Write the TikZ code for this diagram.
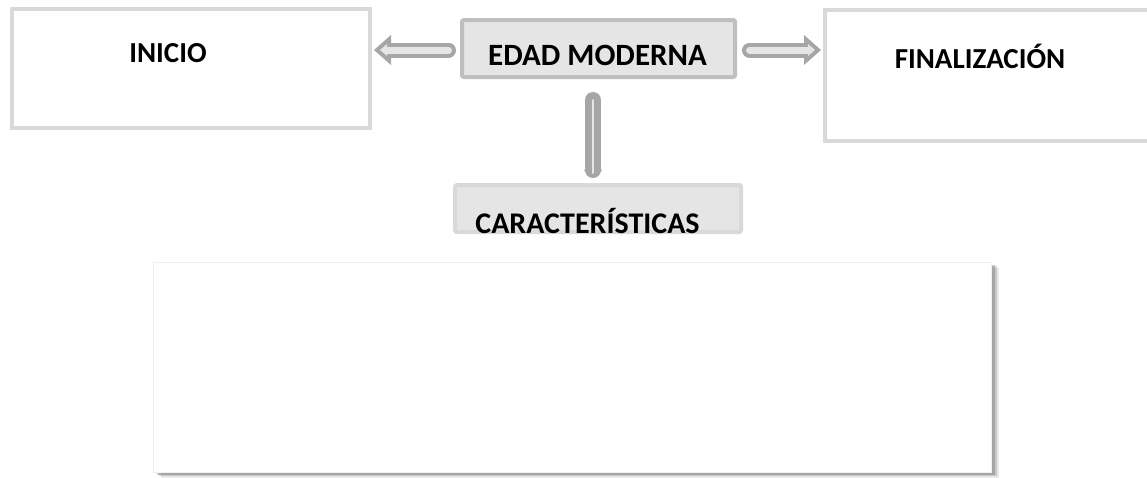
\documentclass[tikz,border=0pt]{standalone}
\usepackage{fontspec}
\setmainfont{Carlito}
\usetikzlibrary{arrows.meta}
\usetikzlibrary{shadows}

\tikzset{
  box/.style={draw=black!15, line width=4pt, fill=white, inner sep=0pt},
  greybox/.style={box, fill=black!10},
  lbl/.style={font=\bfseries\fontsize{#1}{#1}\selectfont, anchor=base, inner sep=0pt},
  softshadow/.style={
    drop shadow={shadow xshift=7pt, shadow yshift=-5pt, fill=black!60, opacity=.15},
    drop shadow={shadow xshift=5pt, shadow yshift=-3.5pt, fill=black!60, opacity=.25},
    drop shadow={shadow xshift=3pt, shadow yshift=-2pt, fill=black!60, opacity=.35}},
  blk/.style={draw=black!35, line width=15pt, line cap=round,
    -{Triangle[length=17pt, width=30pt, line width=0pt 0 0]},
    postaction={draw=black!10, line width=7pt, shorten >=8pt,
      -{Triangle[length=7pt, width=12pt, line width=0pt 0 0]}}},
  blkdown/.style={draw=black!35, line width=16pt, line cap=round,
    -{Triangle[length=8pt, width=19pt, line width=0pt 0 0]},
    postaction={draw=black!10, line width=2pt, arrows=-, shorten >=10pt}},
}

\begin{document}
\begin{tikzpicture}[x=1pt,y=-1pt]
                \useasboundingbox (0,0) rectangle (1147,477);
                \node[box, minimum width=358pt, minimum height=119pt] (inicio) at (191,68.5) {};
                \node[greybox, draw=black!25, rounded corners=2pt, minimum width=273pt, minimum height=57pt] (edad) at (598.5,48.5) {};
                \node[box, minimum width=335pt, minimum height=131pt] (fin) at (992.5,75.5) {};
                \node[greybox, rounded corners=2pt, minimum width=286pt, minimum height=47pt] (carac) at (598,208.5) {};
                \node[draw=black!6, line width=1pt, fill=white, minimum width=838pt, minimum height=210pt, softshadow] (lista) at (572.5,367.5) {};
                \node[lbl=29] (inicioT) at (168,62) {INICIO};
                \node[lbl=31] (edadT) at (597.5,65) {EDAD MODERNA};
                \node[lbl=29] (finT) at (980,68) {FINALIZACIÓN};
                \node[lbl=30] (caracT) at (587.5,233) {CARACTERÍSTICAS};
                \draw[blk, shorten <=11.5pt, shorten >=2pt] ([yshift=-1.5pt]edad.west) to ([yshift=-1.5pt]edad.west -| inicio.east);
                \draw[blk, shorten <=12.5pt, shorten >=2pt] ([yshift=-1.5pt]edad.east) to ([yshift=-1.5pt]edad.east -| fin.west);
                \draw[blkdown, shorten <=21pt, shorten >=5pt] ([xshift=-5.5pt]edad.south) to ([xshift=-5pt]carac.north);
            \end{tikzpicture}
\end{document}
